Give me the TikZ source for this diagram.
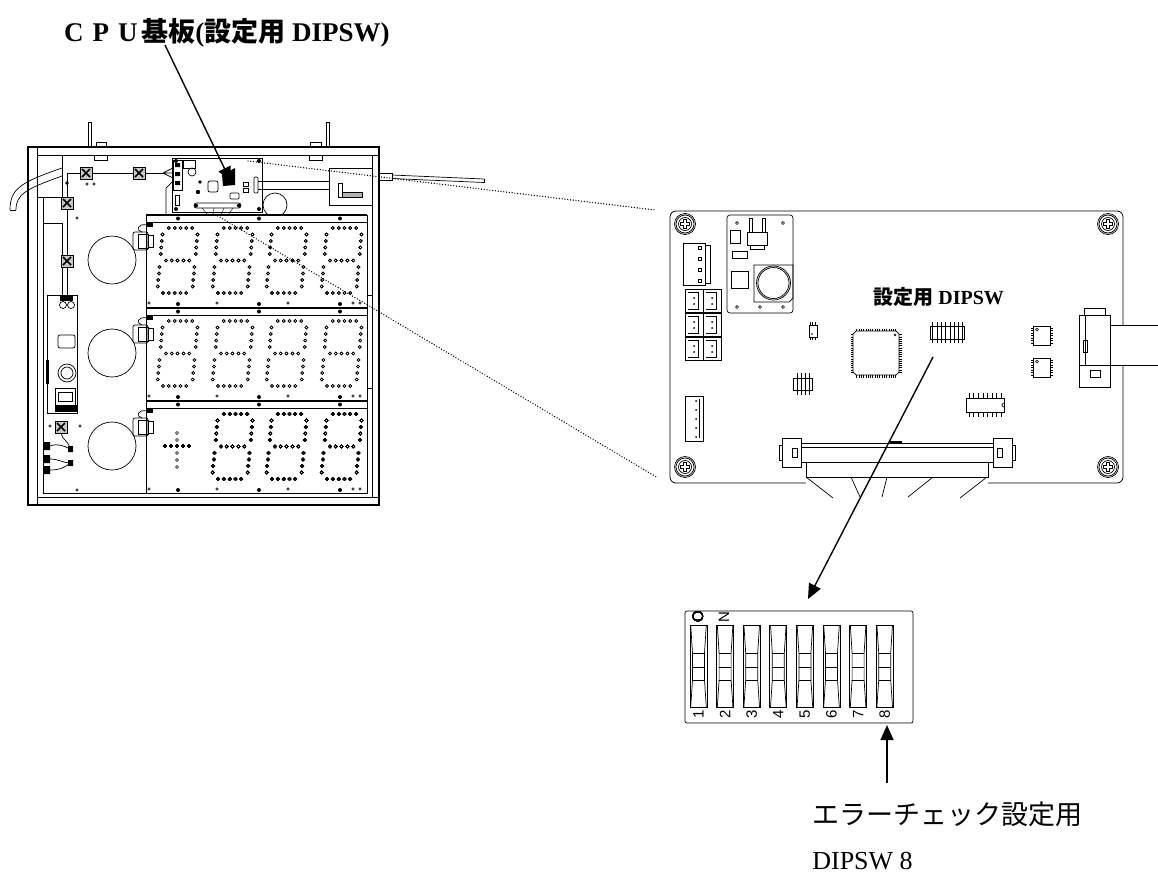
\documentclass[tikz,border=0pt]{standalone}
\usepackage{fontspec}
\setmainfont{Liberation Serif}
\setsansfont{Liberation Sans}
\newfontfamily\jp{Noto Sans CJK JP}
\usetikzlibrary{arrows.meta}

\newcommand{\fw}[1]{\makebox[1em]{#1}}
\newcommand{\segdigit}[2]{%
  \foreach \i in {1,...,5}{
    \foreach \j in {0,32.5,65}{
      \draw[led] ({#1+\i*5.83-0.09*\j},{#2+\j}) circle (1.5pt);}}
  \foreach \j in {6.5,13,19.5,26,39,45.5,52,58.5}{
    \draw[led] ({#1-0.09*\j},{#2+\j}) circle (1.5pt);
    \draw[led] ({#1+35-0.09*\j},{#2+\j}) circle (1.5pt);}
}
\newcommand{\dotpanel}[1]{%
  \draw[fill=white] (146,#1) rectangle (367,#1+92);
  \draw[heavy] (146,#1) -- (367,#1);
  \draw (146,#1+7) -- (367,#1+7);
  \foreach \px in {178,259,340}{
    \fill (\px,#1+3.5) circle (2pt);
    \fill (\px,#1+89) circle (2pt);}
  \foreach \px in {149,217,288,353,360}
    \draw[led] (\px,#1+88) circle (1.2pt);
  \draw[rounded corners=2pt] (133,#1+17) rectangle (148,#1+35);
  \draw (138,#1+19) rectangle (148,#1+33);
  \draw (148,#1+20) rectangle (153,#1+32);
  \fill (147,#1+7) rectangle (153,#1+12);
  \draw (147,#1+10) .. controls (137,#1+8) and (136,#1+16) .. (142,#1+17);
}
\newcommand{\xconn}[2]{%
  \draw[fill=gray!45] (#1-6,#2-6) rectangle (#1+6,#2+6);
  \draw[line width=1.6pt] (#1-4,#2-4) -- (#1+4,#2+4) (#1-4,#2+4) -- (#1+4,#2-4);
}
\newcommand{\screw}[2]{%
  \draw (#1,#2) circle (10.5pt) circle (9pt) circle (6.5pt);
  \draw (#1-1.5,#2-4.5) -- (#1+1.5,#2-4.5) -- (#1+1.5,#2-1.5) -- (#1+4.5,#2-1.5)
    -- (#1+4.5,#2+1.5) -- (#1+1.5,#2+1.5) -- (#1+1.5,#2+4.5) -- (#1-1.5,#2+4.5)
    -- (#1-1.5,#2+1.5) -- (#1-4.5,#2+1.5) -- (#1-4.5,#2-1.5) -- (#1-1.5,#2-1.5) -- cycle;
}
\newcommand{\dipswitch}[1]{%
  \draw (#1,625) rectangle (#1+17,707);
  \draw (#1+0.7,625) -- (#1+2.5,653) -- (#1+2.5,680) -- (#1+0.7,707);
  \draw (#1+16.3,625) -- (#1+14.5,653) -- (#1+14.5,680) -- (#1+16.3,707);
  \draw (#1+2.5,653) -- (#1+14.5,653) (#1+2.5,667) -- (#1+14.5,667)
    (#1+2.5,680) -- (#1+14.5,680);
}

\begin{document}
\begin{tikzpicture}[x=1pt,y=-1pt,line width=0.7pt]
  \tikzset{led/.style={line width=0.55pt},
    heavy/.style={line width=1.2pt},
    pin/.style={line width=0.4pt},
    leader/.style={line width=1.4pt,-{Triangle[length=15pt,width=13pt]}},
    dotline/.style={line width=1.4pt,dash pattern=on 0pt off 2.8pt,line cap=round},
    label/.style={anchor=base west,inner sep=0pt},
    swnum/.style={rotate=90,font=\sffamily\fontsize{15}{15}\selectfont}}
  \useasboundingbox (0,0) rectangle (1158,878);

  % device frame
  \draw (88,122) rectangle (91,147) (326,122) rectangle (329,147);
  \draw (96,142) rectangle (106,147) (94,155) rectangle (107,160);
  \draw (310,142) rectangle (321,147) (309,155) rectangle (322,160);
  \draw[heavy] (28,147) rectangle (379,505);
  \draw (37,147) -- (37,505) (37,155) -- (379,155) (37,497) -- (379,497);
  \draw (372,155) -- (372,497) (367,295) -- (372,295) (367,388) -- (372,388);
  \draw (37,197) -- (62,197) -- (62,155);
  \draw (43,197) -- (43,493) -- (146,493);
  \draw (43,223) -- (62,223) -- (62,295);
  \draw (10,210) .. controls (10,188) and (22,182) .. (62,168);
  \draw (16,210) .. controls (16,194) and (26,189) .. (62,176);
  \draw (10,210) -- (16,210);

  % wiring
  \draw (67,297) -- (67,173) -- (163,173);
  \draw (163,173) -- (173,168) (163,173) -- (173,173) (163,173) -- (173,178);
  \xconn{86}{173} \xconn{139}{173} \xconn{67}{203} \xconn{67}{261}
  \fill (67,183) circle (1.8pt);
  \draw[led] (87,184) circle (1.3pt) (94,184) circle (1.3pt) (77,218) circle (1.3pt);

  % power board
  \draw (47,295) rectangle (77,413);
  \fill (60,296) rectangle (73,301);
  \draw (63,305) circle (3.5pt) (71,305) circle (3.5pt);
  \draw[rounded corners=2pt] (58,335) rectangle (75,348);
  \draw (67,373) circle (9pt) circle (6pt);
  \draw (55,388) rectangle (75,405) (58,392) rectangle (72,401);
  \fill (55,405) rectangle (77,412);
  \fill (46,360) rectangle (49,384);
  \xconn{61}{427}
  \draw[led] (50,426) circle (1.3pt) (80,426) circle (1.3pt) (77,490) circle (1.3pt);
  \draw (61,433) .. controls (62,440) and (70,442) .. (70,449);
  \draw (50,446) .. controls (58,443) and (64,446) .. (70,449);
  \draw (50,459) .. controls (58,459) and (64,463) .. (70,463);
  \draw (50,470) .. controls (60,470) and (66,467) .. (70,463);
  \fill (43,442) rectangle (50,450) (43,455) rectangle (50,463) (43,466) rectangle (50,474);
  \fill (68,446) rectangle (73,452) (68,460) rectangle (73,466);

  % cpu board (small)
  \draw (275,205) circle (12pt);
  \draw (172,158) rectangle (262,212);
  \draw (166,215) -- (166,188) -- (173,181);
  \foreach \cx/\cy in {176/161,259/161,176/209,259/209}
    \fill (\cx,\cy) circle (2pt);
  \draw (173,160) rectangle (182,190);
  \fill (175,163) rectangle (180,167) (175,172) rectangle (180,176) (175,181) rectangle (180,185);
  \draw (183,160) rectangle (195,168);
  \draw (192,172) circle (4pt);
  \fill (200,182) circle (1.8pt) (198,192) circle (2.2pt);
  \draw[rounded corners=2pt] (208,181) rectangle (218,192);
  \draw (243,182) rectangle (248,186) (243,188) rectangle (248,192);
  \draw[rounded corners=1pt] (230,193) rectangle (239,199);
  \draw (175,195) rectangle (179,205);
  \fill (222,175) -- (235,168) -- (235,185) -- (223,186) -- cycle;
  \draw[rounded corners=2.5pt] (194,203) rectangle (241,208);
  \fill (196,205.5) circle (2pt) (239,205.5) circle (2pt);
  \draw[pin] (202,208) -- (208,215) (214,208) -- (213,215) (224,208) -- (221,215) (233,208) -- (228,215);
  \draw[rounded corners=1pt] (254,177) rectangle (258,193);
  \draw (258,181) -- (329,181) (258,189) -- (329,189);
  \draw (329,168) rectangle (372,205);
  \draw (338,183) rectangle (342,197);
  \draw[fill=gray!60] (342,192) rectangle (362,197);
  \draw (379,173) rectangle (392,180);
  \draw (392,175) -- (484,179) (392,178.5) -- (484,182.5);
  \draw (484,179) -- (484,182.5);

  % display panels
  \foreach \py in {215,308,401} \dotpanel{\py}
  \foreach \dy in {228,321} \foreach \dx in {163,218,272,327} \segdigit{\dx}{\dy}
  \foreach \dx in {218,272,327} \segdigit{\dx}{414}
  \foreach \t in {0,...,4} \draw[led] (165+\t*6,446) circle (1.5pt);
  \foreach \t in {433,440,453,460,467} \draw[led] (177,\t) circle (1.5pt);
  \draw (112,260) circle (24pt) (112,353) circle (24pt) (112,446) circle (24pt);

  % main board
  \draw[rounded corners=6pt,line width=0.8pt] (670,211) rectangle (1123,483);
  \screw{685}{224} \screw{1108}{224} \screw{685}{467} \screw{1108}{467}
  \draw[rounded corners=3pt] (727,215) rectangle (793,313);
  \draw (730,230) rectangle (740,243) (732,251) rectangle (747,258) (731,271) rectangle (748,288);
  \draw (749,218) rectangle (752,232) (762,218) rectangle (765,232);
  \draw (747,232) rectangle (767,245) (750,245) rectangle (764,249);
  \draw (754,265) -- (793,265) -- (793,298) -- (789,302) -- (754,302) -- cycle;
  \draw (773.5,283) circle (17pt) circle (15.5pt);
  \foreach \hx/\hy in {737/223,783/223,737/307,760/307,783/307}
    \draw[led] (\hx,\hy) circle (1.4pt);
  \draw (683,243) rectangle (705,285) (705,245) rectangle (710,283);
  \foreach \t in {246,257,268,279} \draw[pin] (698,\t) rectangle (701,\t+3);
  \foreach \cx in {685,703} \foreach \cy in {289,313,337}{
    \draw (\cx,\cy) rectangle (\cx+18,\cy+23);
    \draw[pin] (\cx+3,\cy+3) -- (\cx+13,\cy+3) -- (\cx+13,\cy+20) -- (\cx+3,\cy+20);
    \fill (\cx+9,\cy+9) circle (1pt) (\cx+9,\cy+15) circle (1pt);}
  \draw (685,396) rectangle (703,441) (699,399) -- (699,438);
  \foreach \t in {0,...,4} \fill (696,401+\t*9) circle (1pt);
  \draw (809,325) rectangle (817,337);
  \fill (812,334) circle (0.8pt);
  \foreach \t in {810,812.5,815} \draw[pin] (\t,325) -- (\t,322) (\t,337) -- (\t,340);
  \draw (793,378) rectangle (812,390);
  \foreach \t in {797,801,805,809} \draw (\t,373) -- (\t,395);
  \draw (856,331) -- (896,331) -- (899,334) -- (899,372) -- (896,375) -- (856,375)
    -- (853,372) -- (853,334) -- cycle;
  \draw[led] (895,335) circle (1pt);
  \foreach \t in {0,...,17}{
    \draw[pin] (856.5+\t*2.3,331) -- ++(0,-2.5) (856.5+\t*2.3,375) -- ++(0,2.5);
    \draw[pin] (853,334.5+\t*2.2) -- ++(-2.5,0) (899,334.5+\t*2.2) -- ++(2.5,0);}
  \draw (930,326) rectangle (964,339);
  \foreach \t in {0,...,7} \draw[pin] (932.5+\t*4.3,322) -- (932.5+\t*4.3,343);
  \foreach \iy in {326,358}{
    \draw (1033,\iy) rectangle (1050,\iy+19);
    \draw[led] (1037,\iy+3.5) circle (1.5pt);
    \foreach \t in {0,...,6}
      \draw[pin] (1033,\iy+2+\t*2.5) -- ++(-2.5,0) (1050,\iy+2+\t*2.5) -- ++(2.5,0);}
  \draw (966,398) rectangle (1004,412);
  \draw (1004,403) arc (90:270:2pt);
  \foreach \t in {0,...,7} \draw[pin] (969+\t*4.6,398) -- ++(0,-5) (969+\t*4.6,412) -- ++(0,5);
  \fill[white] (1105,325) rectangle (1158,365);
  \draw (1084,308) rectangle (1105,315) (1079,315) rectangle (1110,387);
  \draw (1085,315) -- (1085,365) (1079,365) -- (1110,365);
  \draw (1090,370) rectangle (1100,377) (1083,340) rectangle (1087,352);
  \draw (1110,325) -- (1158,325) (1110,365) -- (1158,365);
  \draw (782,438) rectangle (801,467) (779,445) rectangle (782,460) (792,448) rectangle (797,457);
  \draw (993,438) rectangle (1012,467) (1012,445) rectangle (1015,460) (997,448) rectangle (1002,457);
  \draw (801,443) rectangle (993,462) (801,447) -- (993,447);
  \fill (890,441) rectangle (902,443);
  \fill[white] (806,463) rectangle (988,486);
  \draw (806,462) -- (806,477) -- (988,477) -- (988,462);
  \draw (806,477) -- (833,498) (851,477) -- (860,497) (887,477) -- (882,497)
    (933,477) -- (908,497) (987,477) -- (960,498);

  % dip switch close-up
  \draw[rounded corners=2pt] (685,611) rectangle (913,723);
  \foreach \k [evaluate=\k as \sx using 690+\k*26.6] in {0,...,7} \dipswitch{\sx}
  \node[swnum] (on-o) at (698,617) {O};
  \node[swnum] (on-n) at (724,617) {N};
  \foreach \k in {1,...,8}
    \node[swnum] (num-\k) at ({698.5+(\k-1)*26.6},714) {\k};

  % texts
  \node[label,font=\bfseries\fontsize{27}{32}\selectfont] (title) at (60,41)
    {\fw{C}\fw{P}\fw{U}{\jp 基板}({\jp 設定用} DIPSW)};
  \node[label,font=\bfseries\fontsize{20}{24}\selectfont] (dip-label) at (873,304)
    {{\jp 設定用} DIPSW};
  \node[label,font=\fontsize{27}{32}\selectfont] (err-label) at (812,824)
    {\jp エラーチェック設定用};
  \node[label,font=\fontsize{26}{32}\selectfont] (err-label-2) at (812,869)
    {DIPSW\fw{8}};

  % leaders
  \coordinate (title-foot) at (165,45);
  \coordinate (cpu-dip) at (231,182);
  \coordinate (sw-start) at (933,357);
  \coordinate (dip-top) at (808,599);
  \coordinate (err-tail) at (887,783);
  \coordinate (sw8-foot) at (887,725);
  \coordinate (cpu-ne) at (248,161);
  \coordinate (cpu-sw) at (213,213);
  \coordinate (board-nw) at (655,210);
  \coordinate (board-sw) at (658,478);
  \draw[dotline] (cpu-ne) -- (board-nw);
  \draw[dotline] (cpu-sw) -- (board-sw);
  \draw[leader] (title-foot) -- (cpu-dip);
  \draw[leader] (sw-start) -- (dip-top);
  \draw[leader] (err-tail) -- (sw8-foot);
\end{tikzpicture}
\end{document}
